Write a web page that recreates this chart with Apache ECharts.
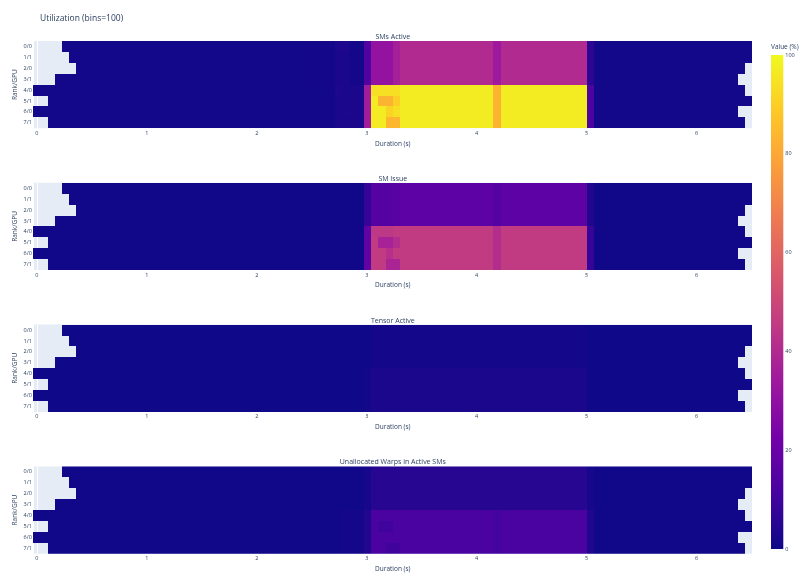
<!DOCTYPE html>
<html>
<head>
<meta charset="utf-8">
<script src="https://cdn.jsdelivr.net/npm/echarts@6/dist/echarts.min.js"></script>
<style>
html,body{margin:0;padding:0;background:#fff;}
#chart{width:805px;height:587px;}
</style>
</head>
<body>
<div id="chart"></div>
<script>
// ---------------- data ----------------
const rowLabels = ['0/0','1/1','2/0','3/1','4/0','5/1','6/0','7/1'];
const binCount = 100;
const binSeconds = 0.0654;           // duration of one bin (s)
const firstBin = [4,5,6,3,0,2,0,2];  // first bin with data per row
const lastBin  = [99,99,98,97,98,99,97,98]; // last bin with data per row
const metricTitles = ['SMs Active','SM Issue','Tensor Active','Unallocated Warps in Active SMs'];
const xTickValues = [0,1,2,3,4,5,6];
const colorTicks = [0,20,40,60,80,100];
const plasma = ['#0d0887','#46039f','#7201a8','#9c179e','#bd3786','#d8576b','#ed7953','#fb9f3a','#fdca26','#f0f921'];

// segments [fromBin, toBin, value %] for rows 0-3 (top) and rows 4-7 (bottom); later segments override
const smsActiveTop    = [[0,37,1],[38,41,1.5],[42,43,2.5],[44,45,1.5],[46,46,14],[47,49,31],[50,50,36],[51,63,40],[64,64,34],[65,76,40],[77,77,6],[78,99,1]];
const smsActiveBottom = [[0,41,1],[42,45,2.5],[46,46,35],[47,76,97],[64,64,83],[77,77,13],[78,99,1]];
const smsActiveSpots  = [[0,42,43,3],[4,42,42,3],[6,43,43,3],[4,47,50,94],[5,48,49,83],[5,50,50,90],[6,49,49,91],[6,50,50,94],[7,49,50,84]];

const smIssueTop      = [[0,45,0.5],[46,46,8],[47,49,15],[50,50,16],[51,63,17],[64,64,15],[65,76,17],[77,77,4],[78,99,0.5]];
const smIssueBottom   = [[0,45,0.5],[46,46,18],[47,76,46],[64,64,41],[77,77,8],[78,99,0.5]];
const smIssueSpots    = [[4,47,49,45],[5,48,49,37],[5,50,50,41],[6,49,49,42],[7,49,50,38]];

const tensorTop       = [[0,46,0.3],[47,76,1.5],[77,99,0.3]];
const tensorBottom    = [[0,45,0.3],[46,46,1],[47,76,2.5],[77,99,0.3]];
const tensorSpots     = [];

const unallocTop      = [[0,45,0.5],[46,46,2],[47,76,5],[77,77,2],[78,99,0.5]];
const unallocBottom   = [[0,42,0.5],[43,45,1.5],[46,46,4],[47,76,12],[64,64,11],[77,77,4],[78,99,0.5]];
const unallocSpots    = [[5,48,49,10],[7,49,50,10]];

const metricSegments = [
  [smsActiveTop, smsActiveBottom, smsActiveSpots],
  [smIssueTop, smIssueBottom, smIssueSpots],
  [tensorTop, tensorBottom, tensorSpots],
  [unallocTop, unallocBottom, unallocSpots]
];

// ---------------- build ----------------
function buildMatrix(top, bottom, spots) {
  const data = [];
  for (let r = 0; r < rowLabels.length; r++) {
    const vals = new Array(binCount).fill(null);
    const segs = r < 4 ? top : bottom;
    segs.forEach(s => { for (let b = s[0]; b <= s[1]; b++) vals[b] = s[2]; });
    spots.forEach(s => { if (s[0] === r) for (let b = s[1]; b <= s[2]; b++) vals[b] = s[3]; });
    for (let b = firstBin[r]; b <= lastBin[r]; b++) data.push([b * binSeconds, r, vals[b]]);
  }
  return data;
}

function renderCell(params, api) {
  const c = api.coord([api.value(0), api.value(1)]);
  const s = api.size([binSeconds, 1]);
  // snap cell edges to whole pixels so neighbouring cells meet without seams
  const x0 = Math.round(c[0] - s[0] / 2), x1 = Math.round(c[0] + s[0] / 2);
  const y0 = Math.round(c[1] - s[1] / 2), y1 = Math.round(c[1] + s[1] / 2);
  return {
    type: 'rect',
    shape: {x: x0, y: y0, width: x1 - x0, height: y1 - y0},
    style: {fill: api.visual('color')}
  };
}

const font = 'Open Sans, Liberation Sans, sans-serif';
const txt = '#2a3f5f';
const gridLeft = 33.3, gridWidth = 719, gridTop0 = 41, gridStep = 141.8, gridHeight = 87.3;

const grids = [], xAxes = [], yAxes = [], series = [], titles = [];
titles.push({text: 'Utilization (bins=100)', left: 40, top: 14.5, padding: 0,
  textStyle: {fontFamily: font, fontSize: 8.5, fontWeight: 'normal', color: txt}});

metricTitles.forEach((name, k) => {
  const top = gridTop0 + k * gridStep;
  grids.push({left: gridLeft, top: top, width: gridWidth, height: gridHeight,
    show: true, backgroundColor: '#E5ECF6', borderWidth: 0});
  xAxes.push({type: 'value', gridIndex: k, position: 'bottom',
    min: -binSeconds / 2, max: (binCount - 0.5) * binSeconds,
    splitNumber: 7,
    axisLine: {show: false}, axisTick: {show: false},
    splitLine: {show: true, lineStyle: {color: '#ffffff', width: 1}},
    axisLabel: {fontFamily: font, fontSize: 5.5, color: txt, margin: 2,
      formatter: v => xTickValues.some(t => Math.abs(t - v) < 1e-6) ? String(Math.round(v)) : ''},
    name: 'Duration (s)', nameLocation: 'middle', nameGap: 12,
    nameTextStyle: {fontFamily: font, fontSize: 6.5, color: txt}});
  yAxes.push({type: 'category', gridIndex: k, data: rowLabels, inverse: true,
    axisLine: {show: false}, axisTick: {show: false}, splitLine: {show: false},
    axisLabel: {fontFamily: font, fontSize: 5.5, color: txt, margin: 1.5},
    name: 'Rank/GPU', nameLocation: 'middle', nameGap: 15, nameRotate: 90, nameMoveOverlap: false,
    nameTextStyle: {fontFamily: font, fontSize: 6.5, color: txt}});
  const seg = metricSegments[k];
  series.push({type: 'custom', name: name, xAxisIndex: k, yAxisIndex: k,
    renderItem: renderCell, encode: {x: 0, y: 1}, clip: true, silent: true,
    data: buildMatrix(seg[0], seg[1], seg[2])});
  titles.push({text: name, left: gridLeft + gridWidth / 2, top: top - 7.5, textAlign: 'center', padding: 0,
    textStyle: {fontFamily: font, fontSize: 7, fontWeight: 'normal', color: txt}});
});

// colorbar
const cbGrid = grids.length;
grids.push({left: 771, top: 55, width: 12.3, height: 494});
const cbX = xAxes.length;
xAxes.push({type: 'category', gridIndex: cbGrid, data: ['v'], show: false});
const cbY = yAxes.length;
yAxes.push({type: 'value', gridIndex: cbGrid, position: 'right', min: colorTicks[0], max: colorTicks[colorTicks.length - 1], interval: 20,
  axisLine: {show: false}, axisTick: {show: false}, splitLine: {show: false},
  axisLabel: {fontFamily: font, fontSize: 5.5, color: txt, margin: 2}});
series.push({type: 'bar', xAxisIndex: cbX, yAxisIndex: cbY, data: [100], barWidth: '100%', silent: true,
  itemStyle: {color: new echarts.graphic.LinearGradient(0, 0, 0, 1,
    plasma.slice().reverse().map((c, i) => ({offset: i / (plasma.length - 1), color: c})))}});
titles.push({text: 'Value (%)', left: 771, top: 44, padding: 0,
  textStyle: {fontFamily: font, fontSize: 6.5, fontWeight: 'normal', color: txt}});

const chart = echarts.init(document.getElementById('chart'), null, {renderer: 'canvas'});
chart.setOption({
  animation: false,
  backgroundColor: '#ffffff',
  title: titles,
  grid: grids,
  xAxis: xAxes,
  yAxis: yAxes,
  visualMap: {show: false, min: 0, max: 100, dimension: 2, seriesIndex: [0,1,2,3], inRange: {color: plasma}},
  series: series
});
</script>
</body>
</html>
